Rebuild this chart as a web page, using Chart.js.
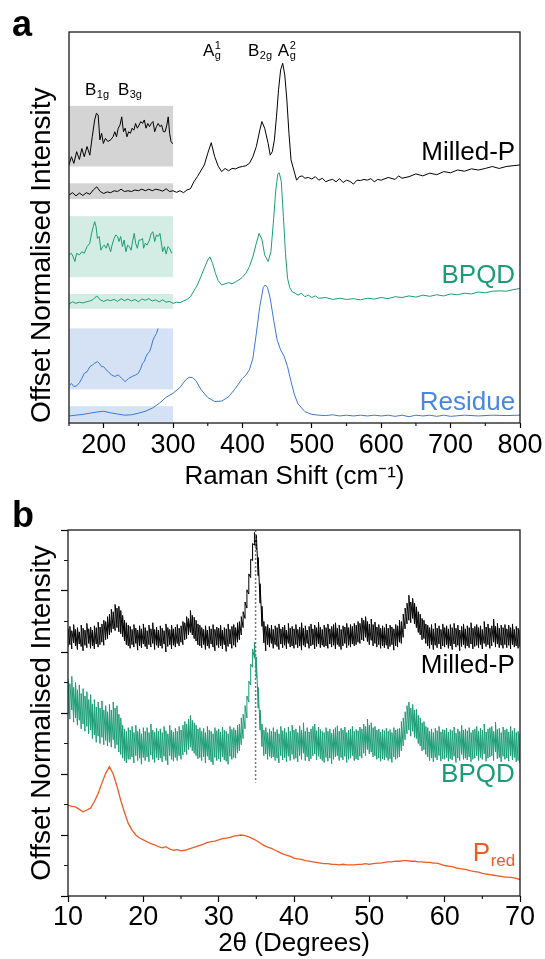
<!DOCTYPE html>
<html lang="en">
<head>
<meta charset="UTF-8" />
<title>Raman and XRD of milled phosphorus, BPQD and residue</title>
<script src="https://cdn.jsdelivr.net/npm/chart.js@4.4.0/dist/chart.umd.min.js"></script>
<style>
  html, body { margin: 0; padding: 0; background: #fff; }
  .wrap { position: relative; width: 545px; height: 959px; }
  #ramanChart { position: absolute; left: 0; top: 0; }
  #xrdChart { position: absolute; left: 0; top: 492px; }
</style>
</head>
<body>
<div class="wrap">
  <canvas id="ramanChart" width="545" height="492"></canvas>
  <canvas id="xrdChart" width="545" height="467"></canvas>
</div>
<script>
// ---- panel a: Raman (offset, normalised) ----
const ramanMilledX = [150,155,160,165,170,175,180,185,190,195,200,205,210,215,220,225,230,235,240,245,250,255,260,265,270,275,280,285,290,295,300,305,310,315,320,325,330,335,340,345,350,355,360,365,370,375,380,385,390,395,400,405,410,415,420,425,
  428,432,437,440,443,446,449,452,455,458,461,464,467,470,474,478,482,486,490,495,
  500,505,510,515,520,525,530,535,540,545,550,555,560,565,570,575,580,585,590,595,600,
  610,620,625,630,640,650,660,670,680,690,700,710,720,730,740,750,760,770,780,790,800];
const ramanMilled = [5.83,5.89,5.81,5.88,5.82,5.89,5.85,5.96,6.04,5.92,5.87,5.91,5.89,5.94,5.92,5.98,5.92,5.94,5.92,5.96,5.94,5.98,5.94,5.98,5.94,5.98,5.96,5.93,5.99,5.92,5.94,5.90,5.94,5.89,5.96,5.99,6.17,6.30,6.45,6.60,6.90,7.17,6.81,6.57,6.43,6.51,6.45,6.51,6.50,6.54,6.56,6.58,6.64,6.81,7.07,7.49,
  7.71,7.54,7.15,6.85,6.94,7.24,7.83,8.52,9.03,9.20,8.90,8.26,7.41,6.73,6.47,6.21,6.30,6.32,6.26,6.28,
  6.24,6.30,6.21,6.26,6.17,6.21,6.23,6.17,6.25,6.15,6.21,6.18,6.11,6.21,6.20,6.23,6.21,6.25,6.17,6.23,6.21,
  6.28,6.23,6.32,6.26,6.30,6.37,6.32,6.39,6.35,6.43,6.40,6.47,6.44,6.50,6.47,6.51,6.56,6.51,6.56,6.58,6.60];

const ramanBpqdX = [150,155,160,165,170,175,180,185,190,195,200,205,210,215,220,225,230,235,240,245,250,255,260,265,270,275,280,285,290,295,300,305,310,315,320,325,330,335,340,345,
  350,353,357,361,365,370,375,380,385,390,395,400,405,410,415,420,424,428,432,437,441,445,448,451,453,456,459,462,465,468,472,476,480,485,490,495,500,505,510,
  520,530,540,550,560,570,580,590,600,610,620,630,640,650,660,670,680,690,700,710,720,730,740,750,760,770,780,790,800];
const ramanBpqd = [3.04,3.10,3.06,3.09,3.07,3.10,3.12,3.16,3.25,3.15,3.11,3.15,3.13,3.16,3.11,3.18,3.13,3.17,3.12,3.16,3.10,3.17,3.14,3.18,3.12,3.15,3.10,3.15,3.09,3.11,3.06,3.09,3.08,3.12,3.16,3.23,3.38,3.53,3.74,3.96,
  4.17,4.25,4.08,3.83,3.64,3.53,3.56,3.59,3.56,3.61,3.66,3.73,3.83,4.00,4.25,4.60,4.85,4.70,4.30,4.13,4.38,5.23,5.96,6.37,6.40,6.17,5.28,4.34,3.70,3.47,3.35,3.32,3.27,3.32,3.23,3.27,3.21,3.25,3.19,
  3.21,3.16,3.19,3.16,3.18,3.15,3.19,3.17,3.21,3.18,3.23,3.21,3.25,3.22,3.27,3.24,3.28,3.25,3.30,3.28,3.32,3.30,3.35,3.33,3.37,3.38,3.37,3.41,3.44];

const ramanResidueX = [150,160,170,180,190,200,210,220,230,240,250,260,270,280,290,300,310,
  318,323,328,333,340,350,360,370,380,390,400,405,410,415,420,425,430,433,436,440,445,450,455,460,465,470,475,480,490,
  500,510,520,530,540,550,560,570,580,590,600,610,620,630,640,650,660,670,680,690,700,
  720,740,760,780,800];
const ramanResidue = [0.18,0.20,0.22,0.25,0.28,0.30,0.26,0.23,0.20,0.21,0.25,0.30,0.38,0.50,0.66,0.76,0.91,
  1.10,1.17,1.16,1.08,0.86,0.65,0.55,0.56,0.67,0.89,1.14,1.23,1.36,1.65,2.29,2.98,3.47,3.53,3.47,3.19,2.63,2.12,1.87,1.71,1.44,1.06,0.72,0.49,0.29,
  0.22,0.20,0.19,0.21,0.18,0.20,0.18,0.20,0.18,0.20,0.18,0.20,0.17,0.20,0.16,0.20,0.18,0.20,0.17,0.20,0.17,
  0.20,0.18,0.20,0.19,0.20];

// magnified 150-300 cm-1 insets
const zoomMilledX = [150,153.5,157,161,165,168.5,172,176,180,183.5,187,189.5,192,194.5,197,199.5,202.5,206,210,213.5,216,218.5,221,223.5,226,228.5,231,233.5,236,238.5,241,243.5,246,248.5,251,253.5,256,258.5,261,263.5,266,268.5,271,273.5,276,278.5,281,283.5,286,288.5,291,293,295,297,299.5];
const zoomMilled = [6.60,6.81,6.64,6.94,6.74,7.02,6.81,7.07,6.85,7.32,7.75,7.92,7.88,7.24,7.41,7.15,7.28,7.20,7.24,7.32,7.45,7.32,7.54,7.62,7.83,7.45,7.54,7.32,7.45,7.41,7.54,7.49,7.66,7.54,7.62,7.71,7.66,7.75,7.54,7.66,7.58,7.66,7.71,7.45,7.58,7.66,7.58,7.62,7.45,7.45,7.62,7.83,7.41,7.20,7.14];
const zoomBpqdX = [150,153.5,156,158.5,161,165,168.5,172,176,180,182.5,185,187,189,191,193.5,196,198.5,201,203.5,206,210,212,215,217.5,220,222,224.5,227,229.5,232,234.5,237,239.5,242,244,246,248.5,251,253.5,256,257.5,260,262.5,266,268.5,271,273.5,276,278.5,281,282.5,285,287.5,290,292.5,295,298];
const zoomBpqd = [4.30,4.34,4.25,4.13,4.34,4.30,4.38,4.34,4.51,4.60,4.85,5.02,5.15,5.02,4.72,4.77,4.42,4.51,4.55,4.47,4.60,4.38,4.55,4.72,4.81,4.77,4.64,4.77,4.51,4.68,4.38,4.55,4.51,4.42,4.68,4.85,4.60,4.47,4.68,4.68,4.72,4.47,4.60,4.55,4.68,4.85,4.89,4.64,4.81,4.77,4.85,4.68,4.38,4.51,4.32,4.51,4.47,4.34];
const zoomResidueX = [151,153.5,157,161,165,168.5,172,176,180,183.5,187,191,193.5,197,200,203.5,207,211,216,221,226,231,236,241,246,250,253.5,256,258.5,261,263.5,266,268.5,271,273.5,276,278.5];
const zoomResidue = [0.97,1.01,0.93,0.95,1.03,1.14,1.27,1.31,1.44,1.48,1.53,1.57,1.53,1.44,1.44,1.36,1.31,1.23,1.19,1.23,1.14,1.06,1.14,1.19,1.23,1.27,1.40,1.53,1.57,1.70,1.78,1.82,1.95,2.12,2.21,2.29,2.42];

// ---- panel b: XRD, 2theta 10-70; noisy scans kept as low/high envelope per 0.25 deg ----
const xrdStart = 10, xrdStep = 0.25, predStep = 0.5;
const xrdMilledHi = [4.38,4.42,4.35,4.45,4.37,4.40,4.33,4.44,4.39,4.36,4.47,4.38,4.41,
  4.36,4.43,4.40,4.49,4.41,4.46,4.52,4.50,
  4.58,4.62,4.70,4.66,4.78,4.72,4.75,4.68,
  4.60,4.52,4.48,4.44,
  4.42,4.37,4.45,4.39,4.36,4.43,4.38,4.46,
  4.40,4.35,4.44,4.38,4.48,4.37,4.41,4.36,
  4.43,4.39,4.35,4.46,4.40,4.37,4.44,4.38,
  4.41,4.45,4.39,4.43,4.50,4.48,4.58,4.55,
  4.68,4.60,4.57,4.52,4.46,4.44,
  4.40,4.37,4.43,4.36,4.42,4.38,4.45,4.37,4.41,4.39,
  4.44,4.36,4.40,4.38,4.46,4.37,4.42,4.45,
  4.40,4.48,4.50,4.58,4.66,4.82,
  5.02,5.28,5.52,5.78,5.96,5.92,5.55,5.12,
  4.75,4.50,4.42,4.45,4.39,4.44,
  4.37,4.43,4.40,4.46,4.38,4.41,4.44,4.36,4.47,4.39,4.42,4.38,
  4.45,4.37,4.41,4.48,4.39,4.43,4.36,4.42,4.46,4.38,4.44,4.40,4.49,4.41,4.37,4.44,
  4.40,4.46,4.38,4.42,4.45,4.48,4.39,4.44,4.37,4.43,4.41,4.47,4.40,4.45,4.42,4.47,
  4.44,4.50,4.47,4.56,4.52,4.58,4.50,4.46,4.54,4.45,4.49,4.41,4.45,4.39,4.43,4.40,
  4.46,4.39,4.44,4.41,4.38,4.45,4.43,4.52,4.50,4.62,
  4.72,4.80,4.93,4.82,4.88,4.80,4.74,4.66,4.62,4.55,4.52,4.46,
  4.44,4.40,4.45,4.38,4.47,4.39,4.43,4.37,4.46,4.40,
  4.43,4.38,4.45,4.40,4.47,4.39,4.44,4.36,4.42,4.46,4.38,4.43,4.40,4.48,4.39,4.42,
  4.45,4.40,4.43,4.37,4.50,4.41,4.46,4.39,4.43,4.54,4.42,4.47,4.39,4.44,4.40,4.45,
  4.38,4.44,4.40,4.46,4.37,4.42,4.39,4.36];
const xrdMilledLo = [4.08,4.12,4.05,4.15,4.10,4.04,4.13,4.09,4.02,4.11,4.07,4.14,4.06,
  4.10,4.05,4.13,4.08,4.12,4.16,4.11,4.20,
  4.22,4.28,4.32,4.38,4.35,4.40,4.33,4.30,
  4.25,4.18,4.12,4.10,
  4.06,4.12,4.08,4.14,4.03,4.10,4.07,4.13,
  4.09,4.05,4.12,4.08,4.14,4.04,4.11,4.07,
  4.10,4.06,4.13,4.00,4.09,4.12,4.05,4.11,
  4.08,4.14,4.10,4.16,4.12,4.20,4.22,4.28,
  4.32,4.28,4.22,4.18,4.12,4.10,
  4.07,4.12,4.04,4.10,4.06,4.13,4.08,4.02,4.11,4.07,
  4.10,4.05,4.12,4.01,4.09,4.13,4.06,4.11,
  4.08,4.16,4.20,4.28,4.40,4.55,
  4.72,4.95,5.22,5.50,5.75,5.68,5.25,4.80,
  4.42,4.15,4.02,4.12,4.08,4.14,
  4.06,4.12,4.09,4.04,4.13,4.07,4.11,4.05,4.14,4.08,4.10,4.06,
  4.12,4.07,4.10,4.03,4.11,4.08,4.14,4.06,4.10,4.12,4.05,4.09,4.13,4.07,4.11,4.08,
  4.10,4.06,4.13,4.08,4.11,4.05,4.12,4.09,4.04,4.10,4.14,4.07,4.11,4.08,4.13,4.10,
  4.12,4.16,4.14,4.20,4.18,4.24,4.17,4.12,4.19,4.10,4.14,4.08,4.12,4.06,4.10,4.07,
  4.11,4.05,4.09,4.12,4.03,4.10,4.08,4.16,4.14,4.24,
  4.38,4.46,4.52,4.48,4.55,4.46,4.40,4.32,4.28,4.20,4.22,4.14,
  4.10,4.06,4.12,4.04,4.11,4.07,4.13,4.05,4.10,4.08,
  4.12,4.06,4.10,4.04,4.13,4.08,4.11,4.02,4.09,4.12,4.06,4.10,4.07,4.13,4.05,4.09,
  4.11,4.07,4.12,4.05,4.14,4.09,4.12,4.06,4.10,4.16,4.08,4.13,4.07,4.11,4.06,4.12,
  4.07,4.11,4.05,4.12,4.08,4.10,4.06,4.09];
const xrdBpqdHi = [3.55,3.48,3.60,3.42,3.50,3.38,3.46,3.32,3.40,3.28,3.35,3.22,3.30,
  3.15,3.22,3.10,3.18,3.08,3.20,3.05,3.12,
  3.02,3.14,3.05,3.18,3.08,3.12,2.98,2.92,
  2.80,2.74,2.70,2.76,
  2.72,2.78,2.68,2.80,2.70,2.74,2.66,2.76,
  2.70,2.76,2.68,2.82,2.72,2.69,2.75,2.70,
  2.74,2.68,2.78,2.71,2.66,2.80,2.72,2.69,
  2.75,2.70,2.78,2.72,2.80,2.86,2.82,2.90,
  2.96,2.88,2.84,2.80,2.74,2.76,
  2.70,2.75,2.68,2.78,2.72,2.70,2.66,2.76,2.71,2.74,
  2.69,2.77,2.72,2.70,2.66,2.78,2.73,2.76,
  2.72,2.80,2.82,2.92,2.98,3.12,
  3.28,3.52,3.80,4.05,4.16,3.92,3.42,3.05,
  2.82,2.72,2.76,2.68,2.74,2.70,
  2.76,2.69,2.73,2.66,2.78,2.71,2.75,2.68,2.77,2.70,2.80,2.72,
  2.74,2.68,2.79,2.72,2.84,2.70,2.76,2.69,2.74,2.78,2.82,2.71,2.77,2.73,2.70,2.68,
  2.76,2.70,2.74,2.67,2.73,2.76,2.79,2.70,2.75,2.72,2.77,2.68,2.72,2.74,2.78,2.70,
  2.73,2.71,2.77,2.74,2.82,2.78,2.90,2.80,2.84,2.76,2.78,2.72,2.74,2.69,2.73,2.71,
  2.75,2.70,2.73,2.68,2.76,2.72,2.74,2.75,2.86,2.92,
  3.02,3.12,3.18,3.08,3.14,3.05,3.06,2.96,2.92,2.84,2.86,2.78,
  2.76,2.70,2.74,2.68,2.75,2.71,2.78,2.69,2.73,2.72,
  2.75,2.69,2.73,2.71,2.77,2.67,2.74,2.70,2.80,2.72,2.74,2.71,2.76,2.68,2.72,2.74,
  2.78,2.70,2.75,2.72,2.82,2.69,2.74,2.76,2.78,2.70,2.85,2.73,2.75,2.68,2.77,2.72,
  2.74,2.69,2.78,2.71,2.75,2.68,2.70,2.66];
const xrdBpqdLo = [2.98,2.90,3.05,2.85,2.92,2.80,2.88,2.74,2.82,2.70,2.78,2.66,2.72,
  2.58,2.64,2.52,2.62,2.50,2.60,2.48,2.55,
  2.46,2.52,2.44,2.56,2.42,2.48,2.36,2.32,
  2.26,2.22,2.18,2.24,
  2.24,2.28,2.18,2.30,2.22,2.26,2.16,2.27,
  2.22,2.28,2.20,2.31,2.24,2.19,2.27,2.23,
  2.26,2.20,2.29,2.22,2.15,2.30,2.24,2.21,
  2.27,2.22,2.30,2.24,2.31,2.36,2.32,2.40,
  2.44,2.38,2.34,2.30,2.25,2.27,
  2.22,2.28,2.18,2.29,2.23,2.20,2.15,2.27,2.22,2.25,
  2.20,2.28,2.23,2.21,2.16,2.29,2.24,2.27,
  2.26,2.34,2.38,2.48,2.58,2.74,
  2.92,3.18,3.46,3.75,3.90,3.58,3.08,2.72,
  2.45,2.30,2.33,2.24,2.29,2.26,
  2.28,2.22,2.26,2.18,2.30,2.23,2.27,2.20,2.29,2.22,2.32,2.24,
  2.26,2.20,2.30,2.24,2.34,2.22,2.28,2.21,2.25,2.30,2.33,2.23,2.29,2.25,2.22,2.19,
  2.27,2.21,2.26,2.17,2.24,2.28,2.30,2.22,2.27,2.23,2.29,2.19,2.24,2.26,2.30,2.22,
  2.25,2.23,2.29,2.26,2.34,2.30,2.40,2.33,2.36,2.28,2.30,2.24,2.26,2.21,2.25,2.23,
  2.27,2.22,2.25,2.19,2.28,2.24,2.26,2.28,2.38,2.46,
  2.56,2.66,2.72,2.62,2.70,2.60,2.58,2.50,2.46,2.38,2.40,2.32,
  2.28,2.22,2.26,2.20,2.27,2.23,2.30,2.21,2.25,2.24,
  2.27,2.21,2.25,2.23,2.29,2.19,2.26,2.22,2.32,2.24,2.26,2.23,2.28,2.20,2.24,2.26,
  2.30,2.22,2.27,2.24,2.33,2.21,2.26,2.28,2.30,2.22,2.36,2.25,2.27,2.20,2.29,2.24,
  2.26,2.21,2.30,2.23,2.27,2.20,2.22,2.18];
const xrdPred = [1.49,1.47,1.46,1.42,1.38,1.41,1.44,1.55,1.68,1.85,
  2.01,2.12,2.00,1.80,1.57,1.37,1.19,1.08,1.00,0.95,
  0.92,0.89,0.86,0.84,0.81,0.79,0.81,0.77,0.75,0.76,
  0.74,0.75,0.77,0.79,0.81,0.83,0.85,0.88,0.89,0.90,
  0.92,0.94,0.95,0.96,0.98,0.99,1.00,0.99,0.97,0.94,
  0.91,0.87,0.83,0.80,0.78,0.75,0.72,0.69,0.67,0.65,
  0.62,0.61,0.60,0.58,0.57,0.56,0.55,0.54,0.53,0.53,
  0.52,0.52,0.51,0.52,0.51,0.51,0.51,0.52,0.52,0.53,
  0.52,0.53,0.54,0.54,0.55,0.56,0.56,0.57,0.57,0.58,
  0.58,0.57,0.57,0.56,0.56,0.55,0.55,0.54,0.54,0.52,
  0.50,0.49,0.48,0.46,0.45,0.44,0.43,0.41,0.40,0.39,
  0.37,0.36,0.35,0.34,0.33,0.32,0.31,0.31,0.30,0.29,
  0.27];
const xrdPeak = 34.9;

const FONT = "'Liberation Sans', Arial, Helvetica, sans-serif";
const BLACK = '#000000', GREEN = '#1a9d74', BLUE = '#3a78d6', ORANGE = '#f15a22';
Chart.defaults.font.family = FONT;
Chart.defaults.color = '#000';

function pairs(xs, ys) { return xs.map((x, i) => ({ x: x, y: ys[i] })); }
function grid(start, step, ys) { return ys.map((y, i) => ({ x: start + i * step, y: y })); }
// envelope: each 2theta bin drawn as a stroke from its low to its high reading
function band(start, step, lo, hi) {
  const pts = [];
  const n = Math.min(lo.length, hi.length);
  for (let i = 0; i < n; i++) {
    const x = start + i * step;
    pts.push({ x: x, y: lo[i] }, { x: x, y: hi[i] });
  }
  return pts;
}
function trace(data, color, width) {
  return { data: data, borderColor: color, borderWidth: width || 1, pointRadius: 0, fill: false, tension: 0 };
}

function richWidth(ctx, l) {
  ctx.font = l.size + 'px ' + FONT;
  let w = ctx.measureText(l.text).width;
  ctx.font = Math.round(l.size * 0.66) + 'px ' + FONT;
  w += Math.max(l.sub ? ctx.measureText(l.sub).width : 0, l.sup ? ctx.measureText(l.sup).width : 0);
  return w;
}
function drawRich(ctx, l, x, y) {
  ctx.fillStyle = l.color || '#000';
  ctx.textAlign = 'left';
  ctx.textBaseline = 'alphabetic';
  if (l.align === 'right') x -= richWidth(ctx, l);
  ctx.font = l.size + 'px ' + FONT;
  ctx.fillText(l.text, x, y);
  const w = ctx.measureText(l.text).width;
  ctx.font = Math.round(l.size * 0.66) + 'px ' + FONT;
  if (l.sub) ctx.fillText(l.sub, x + w + 0.5, y + l.size * 0.2);
  if (l.sup) ctx.fillText(l.sup, x + w + 0.5, y - l.size * 0.42);
}

// boxes, frame, minor ticks, dotted marker and text labels
const decor = {
  id: 'decor',
  beforeDatasetsDraw(chart, args, o) {
    const { ctx, scales: { x, y } } = chart;
    ctx.save();
    (o.boxes || []).forEach(b => {
      const x0 = x.getPixelForValue(b.x0), x1 = x.getPixelForValue(b.x1);
      const y0 = y.getPixelForValue(b.y1), y1 = y.getPixelForValue(b.y0);
      ctx.fillStyle = b.color;
      ctx.fillRect(x0, y0, x1 - x0, y1 - y0);
    });
    ctx.restore();
  },
  afterDatasetsDraw(chart, args, o) {
    const { ctx, scales: { x, y } } = chart;
    ctx.save();
    if (o.vline) {
      const px = x.getPixelForValue(o.vline.x);
      ctx.strokeStyle = '#777';
      ctx.lineWidth = 1.5;
      ctx.setLineDash([2, 2]);
      ctx.beginPath();
      ctx.moveTo(px, y.getPixelForValue(o.vline.y1));
      ctx.lineTo(px, y.getPixelForValue(o.vline.y0));
      ctx.stroke();
      ctx.setLineDash([]);
    }
    (o.labels || []).forEach(l => drawRich(ctx, l, x.getPixelForValue(l.x), y.getPixelForValue(l.y)));
    ctx.restore();
  },
  afterDraw(chart, args, o) {
    const { ctx, chartArea: a, scales: { x, y } } = chart;
    ctx.save();
    ctx.strokeStyle = '#1a1a1a';
    ctx.lineWidth = 1.3;
    ctx.strokeRect(a.left, a.top, a.right - a.left, a.bottom - a.top);
    ctx.lineWidth = 1.2;
    ctx.beginPath();
    (o.xMinor || []).forEach(v => {
      const px = x.getPixelForValue(v);
      ctx.moveTo(px, a.bottom);
      ctx.lineTo(px, a.bottom + 3);
    });
    (o.yMinor || []).forEach(v => {
      const py = y.getPixelForValue(v);
      ctx.moveTo(a.left, py);
      ctx.lineTo(a.left - 4, py);
    });
    ctx.stroke();
    if (o.letter) {
      ctx.fillStyle = '#000';
      ctx.font = 'bold 36px ' + FONT;
      ctx.textAlign = 'left';
      ctx.textBaseline = 'alphabetic';
      ctx.fillText(o.letter.text, o.letter.x, o.letter.y);
    }
    ctx.restore();
  }
};

const common = {
  responsive: false,
  animation: false,
  devicePixelRatio: 1,
  events: [],
  elements: { point: { radius: 0 } }
};

// panel a
new Chart(document.getElementById('ramanChart'), {
  type: 'line',
  data: {
    datasets: [
      trace(pairs(ramanMilledX, ramanMilled), BLACK),
      trace(pairs(ramanBpqdX, ramanBpqd), GREEN),
      trace(pairs(ramanResidueX, ramanResidue), BLUE),
      trace(pairs(zoomMilledX, zoomMilled), BLACK),
      trace(pairs(zoomBpqdX, zoomBpqd), GREEN),
      trace(pairs(zoomResidueX, zoomResidue), BLUE)
    ]
  },
  options: Object.assign({}, common, {
    layout: { padding: { top: 32, right: 25, left: 0, bottom: 0 } },
    plugins: {
      legend: { display: false },
      tooltip: { enabled: false },
      decor: {
        letter: { text: 'a', x: 12, y: 36 },
        xMinor: [150, 250, 350, 450, 550, 650, 750],
        boxes: [
          { x0: 150, x1: 300, y0: 6.56, y1: 8.11, color: '#d4d4d4' },
          { x0: 150, x1: 300, y0: 5.73, y1: 6.13, color: '#d4d4d4' },
          { x0: 150, x1: 300, y0: 3.73, y1: 5.29, color: '#d3ece4' },
          { x0: 150, x1: 300, y0: 2.92, y1: 3.30, color: '#d3ece4' },
          { x0: 150, x1: 300, y0: 0.86, y1: 2.42, color: '#d5e2f6' },
          { x0: 150, x1: 300, y0: 0.03, y1: 0.43, color: '#d5e2f6' }
        ],
        labels: [
          { text: 'A', sub: 'g', sup: '1', x: 343, y: 9.39, size: 17 },
          { text: 'B', sub: '2g', x: 408, y: 9.39, size: 17 },
          { text: 'A', sub: 'g', sup: '2', x: 451, y: 9.39, size: 17 },
          { text: 'B', sub: '1g', x: 173, y: 8.39, size: 17 },
          { text: 'B', sub: '3g', x: 220.5, y: 8.39, size: 17 },
          { text: 'Milled-P', x: 793, y: 6.73, size: 26, align: 'right' },
          { text: 'BPQD', x: 793, y: 3.58, size: 26, align: 'right', color: GREEN },
          { text: 'Residue', x: 793, y: 0.33, size: 26, align: 'right', color: '#4a87e0' }
        ]
      }
    },
    scales: {
      x: {
        type: 'linear', min: 150, max: 800,
        ticks: { stepSize: 50, autoSkip: false, maxRotation: 0, padding: 1, font: { size: 27 },
          callback: v => (v % 100 === 0 ? v : '') },
        grid: { drawOnChartArea: false, tickLength: 5, tickWidth: 1.2,
          tickColor: c => (c.tick && c.tick.value % 100 === 0 ? '#000' : 'rgba(0,0,0,0)') },
        border: { display: false },
        title: { display: true, text: 'Raman Shift (cm⁻¹)', font: { size: 26 }, padding: 0 },
        afterFit: s => { s.height = 69; }
      },
      y: {
        min: 0, max: 10,
        ticks: { display: false },
        grid: { display: false },
        border: { display: false },
        title: { display: true, text: 'Offset Normalised Intensity', align: 'start', font: { size: 28 }, padding: { top: 25, bottom: 0 } },
        afterFit: s => { s.width = 69; }
      }
    }
  }),
  plugins: [decor]
});

// panel b
new Chart(document.getElementById('xrdChart'), {
  type: 'line',
  data: {
    datasets: [
      trace(grid(xrdStart, predStep, xrdPred), ORANGE, 1.3),
      trace(band(xrdStart, xrdStep, xrdBpqdLo, xrdBpqdHi), GREEN),
      trace(band(xrdStart, xrdStep, xrdMilledLo, xrdMilledHi), BLACK)
    ]
  },
  options: Object.assign({}, common, {
    layout: { padding: { top: 38, right: 25, left: 0, bottom: 0 } },
    plugins: {
      legend: { display: false },
      tooltip: { enabled: false },
      decor: {
        letter: { text: 'b', x: 12, y: 35 },
        xMinor: [15, 25, 35, 45, 55, 65],
        yMinor: [0.5, 1.5, 2.5, 3.5, 4.5, 5.5],
        vline: { x: xrdPeak, y0: 1.86, y1: 6 },
        labels: [
          { text: 'Milled-P', x: 69.3, y: 3.66, size: 26, align: 'right' },
          { text: 'BPQD', x: 69.3, y: 1.87, size: 26, align: 'right', color: GREEN },
          { text: 'P', sub: 'red', x: 69.3, y: 0.57, size: 26, align: 'right', color: ORANGE }
        ]
      }
    },
    scales: {
      x: {
        type: 'linear', min: 10, max: 70,
        ticks: { stepSize: 5, autoSkip: false, maxRotation: 0, padding: -1, font: { size: 27 },
          callback: v => (v % 10 === 0 ? v : '') },
        grid: { drawOnChartArea: false, tickLength: 6, tickWidth: 1.2,
          tickColor: c => (c.tick && c.tick.value % 10 === 0 ? '#000' : 'rgba(0,0,0,0)') },
        border: { display: false },
        title: { display: true, text: '2θ (Degrees)', font: { size: 26 }, padding: 0 },
        afterFit: s => { s.height = 63; }
      },
      y: {
        min: 0, max: 6,
        ticks: { display: false, stepSize: 0.5 },
        grid: { drawOnChartArea: false, tickLength: 7, tickWidth: 1.2,
          tickColor: c => (c.tick && Number.isInteger(c.tick.value) ? '#000' : 'rgba(0,0,0,0)') },
        border: { display: false },
        title: { display: true, text: 'Offset Normalised Intensity', font: { size: 28 }, padding: { top: 25, bottom: 0 } },
        afterFit: s => { s.width = 68; }
      }
    }
  }),
  plugins: [decor]
});
</script>
</body>
</html>
